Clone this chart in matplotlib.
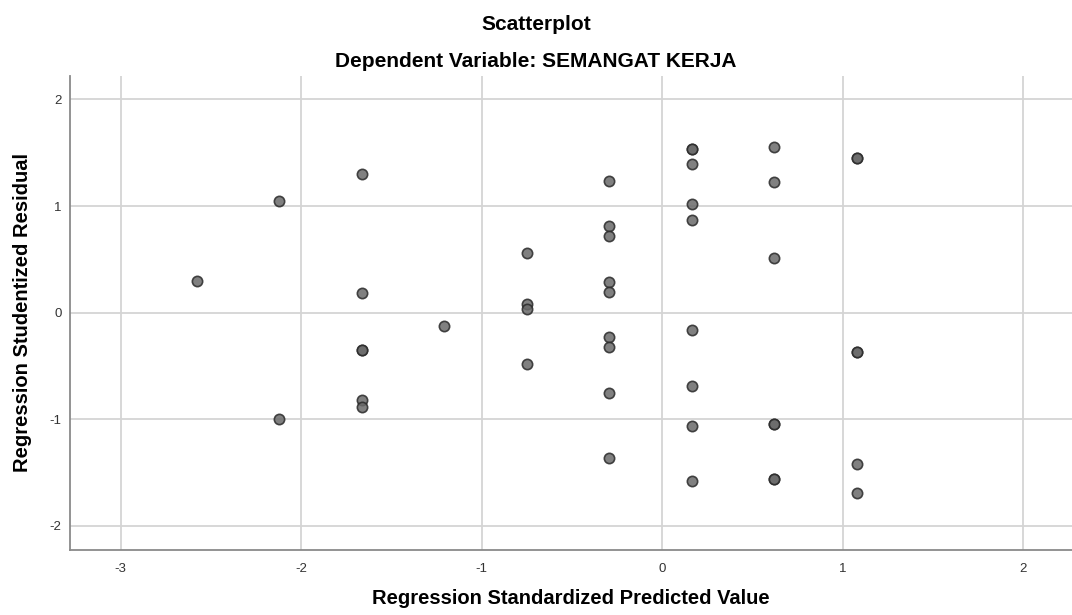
import matplotlib
matplotlib.use("Agg")
import matplotlib.pyplot as plt

plt.rcParams['font.family'] = ['Liberation Sans', 'DejaVu Sans']
plt.rcParams['axes.unicode_minus'] = False

# Regression standardized predicted values and studentized residuals
pred = [-2.577, -2.121, -2.121,
        -1.664, -1.664, -1.664, -1.664, -1.664, -1.664,
        -1.206,
        -0.749, -0.749, -0.749, -0.749,
        -0.293, -0.293, -0.293, -0.293, -0.293, -0.293, -0.293, -0.293, -0.293,
        0.166, 0.166, 0.166, 0.166, 0.166, 0.166, 0.166, 0.166, 0.166,
        0.622, 0.622, 0.622, 0.622, 0.622, 0.622, 0.622,
        1.077, 1.077, 1.077, 1.077, 1.077, 1.077]
resid = [0.295, 1.045, -1.000,
         1.300, 0.182, -0.347, -0.347, -0.819, -0.882,
         -0.125,
         0.557, 0.082, 0.032, -0.484,
         1.232, 0.810, 0.717, 0.291, 0.197, -0.231, -0.325, -0.750, -1.363,
         1.539, 1.539, 1.392, 1.017, 0.873, -0.165, -0.685, -1.060, -1.579,
         1.557, 1.229, 0.516, -1.044, -1.044, -1.563, -1.563,
         1.448, 1.448, -0.369, -0.369, -1.416, -1.694]

xticks = [-3, -2, -1, 0, 1, 2]
yticks = [-2, -1, 0, 1, 2]

W, H = 1072, 615
fig = plt.figure(figsize=(W / 100, H / 100), dpi=100)
ax = fig.add_axes([70 / W, 1 - 550 / H, 1 - 70 / W, (550 - 76) / H])

ax.scatter(pred, resid, s=55, facecolor='#6a6a6a', edgecolor='#2a2a2a',
           linewidth=1.2, alpha=0.85, zorder=3)

ax.set_xlim(-3.28, 2.27)
ax.set_ylim(-2.226, 2.22)
ax.set_xticks(xticks)
ax.set_yticks(yticks)
ax.grid(True, color='#d4d4d4', linewidth=1.3, zorder=0)
ax.set_axisbelow(True)
ax.tick_params(axis='x', length=0, labelsize=9.5, colors='#333333', pad=9)
ax.tick_params(axis='y', length=0, labelsize=9.5, colors='#333333', pad=6)
for s in ['top', 'right']:
    ax.spines[s].set_visible(False)
for s in ['left', 'bottom']:
    ax.spines[s].set_color('#8a8a8a')
    ax.spines[s].set_linewidth(1.3)

ax.set_xlabel('Regression Standardized Predicted Value', fontsize=14.5,
              fontweight='bold')
ax.xaxis.set_label_coords(0.5, -0.083)
ax.set_ylabel('Regression Studentized Residual', fontsize=14.5,
              fontweight='bold')
ax.yaxis.set_label_coords(-0.038, 0.5)

fig.text(0.5, 1 - 30 / H, 'Scatterplot', ha='center', va='baseline',
         fontsize=15, fontweight='bold')
fig.text(0.5, 1 - 67 / H, 'Dependent Variable: SEMANGAT KERJA',
         ha='center', va='baseline', fontsize=15, fontweight='bold')

fig.savefig('out.png', dpi=100)
